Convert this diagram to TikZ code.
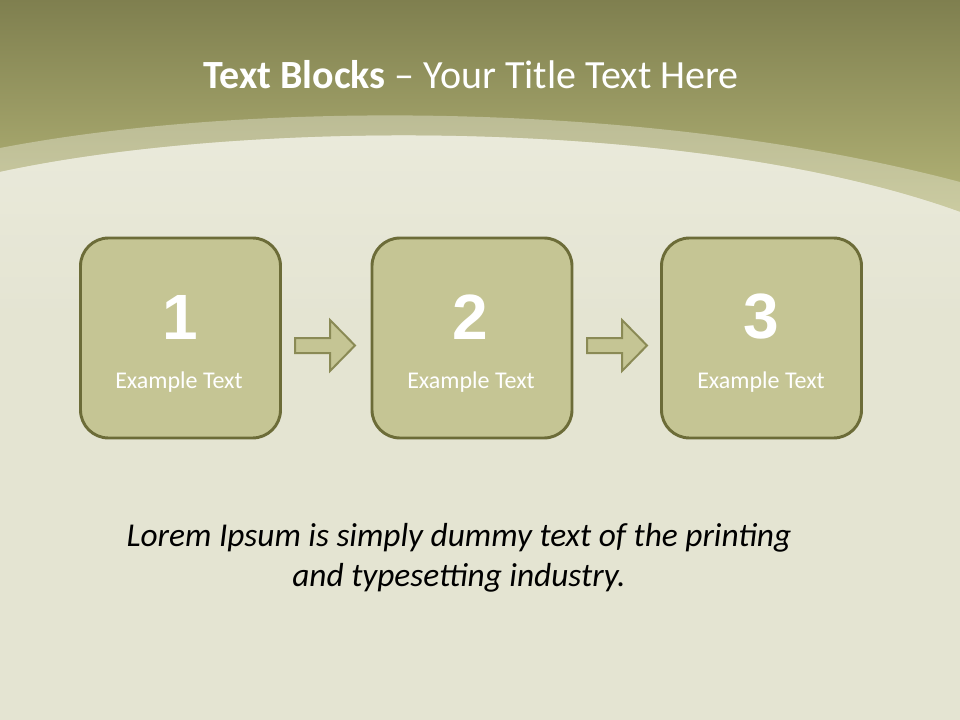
\documentclass[tikz,border=0pt]{standalone}
\usepackage{fontspec}
\setmainfont{Carlito}
\newfontfamily\arialfont{Liberation Sans}
\definecolor{bandtop}{HTML}{7F7F4F}
\definecolor{bandbot}{HTML}{BABB7C}
\definecolor{paper}{HTML}{E4E4D2}
\definecolor{paperlight}{HTML}{EEEEE0}
\definecolor{boxfill}{HTML}{C5C594}
\definecolor{boxline}{HTML}{6C6C38}
\definecolor{arrowline}{HTML}{8A8A55}
\tikzset{
  stepbox/.style={draw=boxline, line width=2.2pt, fill=boxfill, rounded corners=21pt,
    minimum width=150pt, minimum height=150pt},
  numtext/.style={text=white, font=\arialfont\bfseries\fontsize{48}{52}\selectfont},
  labtext/.style={text=white, font=\fontsize{18}{21}\selectfont},
  blockarrow/.style={draw=arrowline, line width=1.5pt, fill=boxfill, line join=miter}
}
\begin{document}
\begin{tikzpicture}[x=0.75pt,y=-0.75pt]
\useasboundingbox (0,0) rectangle (960,720);
% background
\fill[paper] (0,0) rectangle (960,720);
\shade[top color=bandtop, bottom color=bandbot] (0,0) rectangle (960,240);
% translucent band
\fill[paperlight, opacity=0.4] (0,148) .. controls (250,100) and (650,100) .. (960,182)
  -- (960,720) -- (0,720) -- cycle;
% inner paper area
\fill[paper] (0,172) .. controls (250,118) and (700,118) .. (960,212)
  -- (960,720) -- (0,720) -- cycle;
\shade[top color=paperlight, bottom color=paper, opacity=0.7] (0,172) .. controls (250,118) and (700,118) .. (960,212)
  -- (960,330) -- (0,330) -- cycle;
% title
\node[text=white, font=\fontsize{30}{34}\selectfont] (title) at (471,75) {\textbf{Text Blocks} -- Your Title Text Here};
% boxes
\node[stepbox] (b1) at (180.5,338) {};
\node[stepbox] (b2) at (472,338) {};
\node[stepbox] (b3) at (761.5,338) {};
\node[numtext] (n1) at (180.5,317) {1};
\node[numtext] (n2) at (470,317) {2};
\node[numtext] (n3) at (761.5,317) {3};
\node[labtext] (l1) at (179,382) {Example Text};
\node[labtext] (l2) at (471,382) {Example Text};
\node[labtext] (l3) at (761,382) {Example Text};
% arrows
\draw[blockarrow] (295,338) -- (330,338) -- (330,320) -- (355,345.5) -- (330,371) -- (330,353) -- (295,353) -- cycle;
\draw[blockarrow] (587,338) -- (622,338) -- (622,320) -- (647,345.5) -- (622,371) -- (622,353) -- (587,353) -- cycle;
% bottom text
\node[align=center, font=\itshape\fontsize{25}{30}\selectfont, text=black] (lorem) at (459,558)
  {Lorem Ipsum is simply dummy text of the printing\\and typesetting industry.};
\end{tikzpicture}
\end{document}
